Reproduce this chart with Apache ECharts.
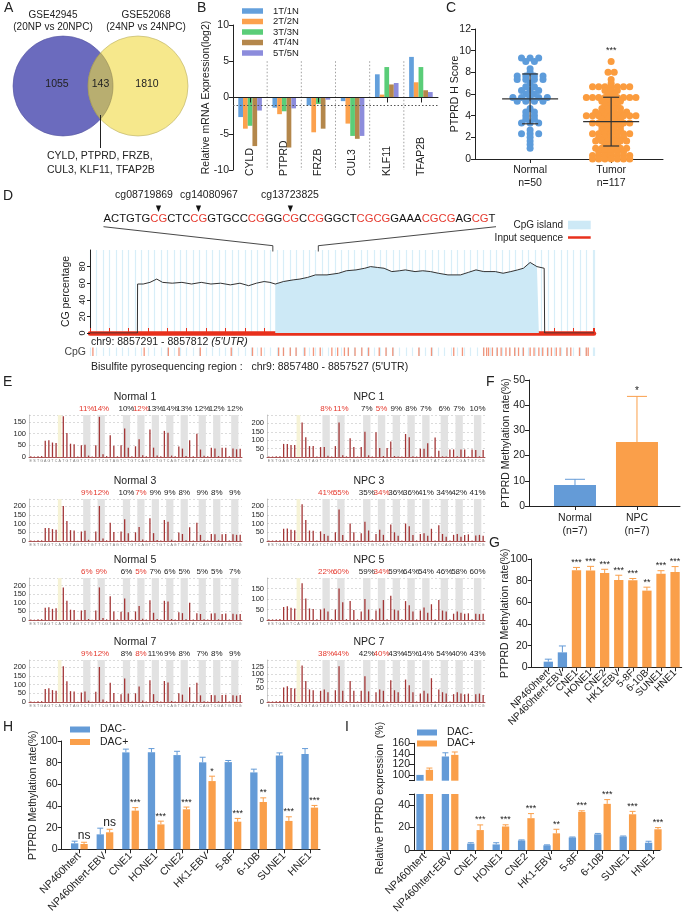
<!DOCTYPE html>
<html><head><meta charset="utf-8">
<script src="https://cdn.jsdelivr.net/npm/echarts@6.0.0/dist/echarts.min.js"></script>
<style>html,body{margin:0;padding:0;background:#fff;}#c{width:685px;height:917px;}</style>
</head><body><div id="c"></div>
<script>
const FONT = "'Liberation Sans', Arial, Helvetica, sans-serif";
const AX = '#222';
const BLUE = '#649bd7', ORANGE = '#fa9f4a', RED = '#e5392e';

// ===== Panel A =====
const vennLeft = ['GSE42945', '(20NP vs 20NPC)'];
const vennRight = ['GSE52068', '(24NP vs 24NPC)'];
const vennCounts = [1055, 143, 1810];
const vennGenes = ['CYLD, PTPRD, FRZB,', 'CUL3, KLF11, TFAP2B'];

// ===== Panel B =====
const bGenes = ['CYLD', 'PTPRD', 'FRZB', 'CUL3', 'KLF11', 'TFAP2B'];
const bNames = ['1T/1N', '2T/2N', '3T/3N', '4T/4N', '5T/5N'];
const bPair1 = [-2.7, -1.4, -1.1, -0.5, 3.2, 5.6];
const bPair2 = [-4.3, -2.3, -4.8, -3.6, 0.4, 2.1];
const bPair3 = [-3.9, -1.9, -0.9, -5.3, 4.2, 4.2];
const bPair4 = [-6.7, -6.9, -4.3, -5.7, 1.8, 1.0];
const bPair5 = [-1.8, -1.5, -0.3, -5.3, 2.0, 0.75];
const bColors = ['#64a0dc', '#fca14d', '#5acd78', '#b4874b', '#8c8cdc'];
const bCutoff = -1;

// ===== Panel C =====
const cGroups = ['Normal', 'Tumor'];
const cCounts = ['n=50', 'n=117'];
const cNormal = [9.33,9.33,9.33,9,9,8.33,8,7.67,7.67,7.67,7.67,7.33,7.33,7.33,7.33,7,6.67,6.67,6.33,6.33,6.33,6,6,5.67,5.67,5.67,5.67,5.67,5.33,5.33,5.33,5.33,4.67,4.33,4.33,4,4,3.67,3.67,3.33,3.33,3.33,2.67,2.33,2.33,2.33,2,1.67,1.33,1];
const cTumor = [9,8,8,7.33,7,
 6.67,6.67,6.67,6.67,6.67,6.67,6.67, 6.33,6.33,6.33, 6,6,
 5.67,5.67,5.67,5.67,5.67,5.67,5.67,5.67,5.67, 5.33,5.33,5.33,5.33, 5,5,5,
 4.67,4.67,4.67,4.67, 4.33,4.33,4.33,4.33,4.33,4.33, 4,4,4,4,4,4,4,4,4,
 3.67,3.67,3.67,3.67, 3.33,3.33,3.33,3.33,3.33,3.33,3.33, 3,3,3,3,
 2.67,2.67,2.67,2.67, 2.33,2.33,2.33,2.33,2.33,2.33,2.33, 2,2,2,2,2,
 1.67,1.67,1.67,1.67,1.67,1.67, 1.33,1.33,1.33, 1,1,1,1,1,1,
 0.67,0.67,0.67,0.67,0.67, 0.33,0.33,0.33,0.33,0.33,0.33,0.33, 0,0,0,0,0,0,0];
const cMean = [5.55, 3.45];
const cSD = [2.3, 2.25];
const cStars = ['', '***'];
const cStarLevel = 10;

// ===== Panel D =====
const chrStart = 8857291, chrEnd = 8857812;
const bsRegion = [8857480, 8857527];
const seqText = 'ACTGTGCGCTCCGGTGCCCGGGCGCCGGGCTCGCGGAAACGCGAGCGT';
const probeNames = ['cg08719869', 'cg14080967', 'cg13723825'];
const probeSeqIdx = [6, 11, 22];
const cgPos = [0,49,49.2,55,62,69,75,85,95,105,115,125,135,145,155,164,172,180,186,191.5,200,210,217,225,233,245,257,265,275,284,290,297,304,312,320,326,336,344,352,360,370,383,391,399,407,419,427,435,442,448,455,462,464,469.5,470,521];
const cgPct = [0,0,59,59,61,65,61,60,61,59,61,59,60,58,60,57,60,62,61,59,62,64,65,67,70,70,72,75,76,78,80,79,78,74,75,76,74,75,74,72,70,70,73,76,74,74,72,74,76,78,85,80,79,78,0,0];
const cpgIsland = [191.5, 464];
const cpgSites = [3,56,81,92,114,146,168,177,195,200,207,213,222,231,238,250,256,263,267,274,281,288,299,306,313,340,353,376,385,407,410,412,416,421,425,430,434,439,443,448,455,459,464,468,473,477,482,486,493,497,506,513,515];
const cgTicks = [0, 20, 40, 60, 80];

// ===== Panel E =====
const pyroTitles = ['Normal 1', 'NPC 1', 'Normal 3', 'NPC 3', 'Normal 5', 'NPC 5', 'Normal 7', 'NPC 7'];
const pctNormal1 = [11,14,10,12,13,14,13,12,12,12];
const pctNPC1 = [8,11,7,5,9,8,7,6,7,10];
const pctNormal3 = [9,12,10,7,9,9,8,9,8,9];
const pctNPC3 = [41,55,35,34,36,36,41,34,42,41];
const pctNormal5 = [6,9,6,5,7,6,5,5,5,7];
const pctNPC5 = [22,60,59,34,59,64,54,46,58,60];
const pctNormal7 = [9,12,8,8,11,9,8,7,8,9];
const pctNPC7 = [38,44,42,40,43,45,14,54,40,43];
const peaksNormal1 = [3,2,3,4,70,72,62,60,0,175,103,57,55,2,50,52,6,2,50,172,12,4,93,48,3,50,122,40,3,46,76,8,3,118,40,6,3,112,104,6,3,45,36,4,72,3,100,32,5,3,40,36,4,40,40,3,36,33,35];
const peaksNPC1 = [3,3,4,5,78,78,72,72,0,205,118,65,65,3,59,59,8,3,65,205,10,4,112,59,3,59,151,10,3,147,53,6,53,92,6,3,3,137,118,5,3,49,49,82,3,116,37,4,3,45,45,4,45,45,3,45,41,4,41];
const peaksNormal3 = [3,2,4,4,75,75,68,65,0,200,115,62,60,2,55,58,7,2,55,200,14,4,105,52,3,55,125,45,3,50,80,9,3,130,45,6,3,120,110,7,3,48,40,4,78,3,105,35,5,3,40,38,4,38,40,3,38,35,36];
const peaksNPC3 = [3,3,4,5,70,72,65,62,0,210,120,60,58,3,55,40,30,3,50,180,35,4,100,50,3,45,110,60,3,40,65,35,3,95,50,30,3,100,85,35,3,40,45,30,70,3,90,40,25,3,35,40,25,35,38,3,32,35,30];
const peaksNormal5 = [3,2,4,5,72,75,65,68,0,190,112,60,58,2,55,58,6,2,55,190,12,4,138,50,3,48,125,45,3,50,82,8,3,115,42,6,3,112,108,6,3,45,40,4,100,3,40,35,5,3,38,40,4,35,38,3,36,33,35];
const peaksNPC5 = [3,3,4,5,62,65,58,55,0,175,102,55,52,3,50,55,40,3,50,150,85,4,90,48,3,40,100,50,3,45,55,95,3,115,50,45,3,90,70,40,3,45,60,35,75,3,95,45,40,3,30,40,35,30,32,3,30,28,30];
const peaksNormal7 = [3,2,4,5,75,78,68,65,0,205,118,62,60,2,55,60,8,2,58,200,14,4,110,52,3,45,135,48,3,50,88,9,3,125,45,6,3,120,112,6,3,50,42,4,85,3,110,38,5,3,40,38,4,40,42,3,38,36,40];
const peaksNPC7 = [2,2,3,4,52,56,50,48,0,130,75,45,42,2,40,45,35,2,42,128,40,3,75,40,2,40,92,38,2,35,45,40,2,78,42,35,2,80,60,35,2,30,40,30,85,2,45,35,30,2,28,35,30,28,30,2,28,30,25];
const pyroYMax = [180, 250, 240, 240, 245, 200, 240, 150];
const pyroYStep = [50, 50, 50, 50, 50, 50, 50, 25];
const cpgBands = [[15,16],[19,20],[26,27],[30,31],[34,35],[38,39],[42,43],[47,48],[51,52],[56,57]];
const controlBand = [8, 8];
const redPctIdx = [0, 1, 3];
const dispensation = 'ESTGAGTCATGTAGTCTGTTCGTAGTCTGTCAGTCTGTCAGTCGTATCAGTCGATGTCG';

// ===== Panel F =====
const fGroups = ['Normal', 'NPC'];
const fN = ['(n=7)', '(n=7)'];
const fMean = [8.3, 25.4];
const fTop = [10.6, 43.5];
const fStars = ['', '*'];

// ===== Panels G, H, I =====
const cellLines = ['NP460htert', 'NP460htert-EBV', 'CNE1', 'HONE1', 'CNE2', 'HK1-EBV', '5-8F', '6-10B', 'SUNE1', 'HNE1'];
const gMeth = [5.2, 13.8, 89.6, 89.4, 87, 80.5, 80.4, 70.8, 86.3, 88];
const gTop = [7.5, 19.7, 92.2, 93.2, 90.5, 85, 82, 74, 89.2, 93];
const gStars = ['', '', '***', '***', '***', '***', '***', '**', '***', '***'];
const hMinus = [5.5, 13.8, 89.5, 89.5, 87, 80.3, 80.5, 71, 86.5, 88];
const hMinusTop = [7.5, 19.5, 92.5, 93, 90.5, 85, 82, 74, 89, 93];
const hPlus = [4.9, 15.7, 35.7, 23, 36.9, 63, 25.5, 43.7, 26.2, 38.5];
const hPlusTop = [6.5, 18.5, 38.5, 26, 39, 67.5, 28.5, 47.5, 30, 40.5];
const hStars = ['ns', 'ns', '***', '***', '***', '*', '***', '**', '***', '***'];
const iMinus = [100, 135, 5.7, 5, 8.5, 4.2, 11.2, 14, 12, 6.5];
const iMinusTop = [100, 142, 6.5, 6.5, 9, 4.6, 11.6, 14.8, 12.5, 7.8];
const iPlus = [109.7, 138, 17.8, 21, 28.4, 14.9, 34, 41.2, 31.9, 18.5];
const iPlusTop = [113, 143.5, 22.4, 22.5, 32.5, 18.5, 35, 45, 34.5, 20];
const iStars = ['', '', '***', '***', '***', '**', '***', '***', '***', '***'];
const iUpperRange = [89, 160], iLowerRange = [0, 50];
const iUpperTicks = [100, 120, 140, 160], iLowerTicks = [0, 20, 40];
const dacNames = ['DAC-', 'DAC+'];

// ================= BUILD =================
function merge(a, b) {
  const o = Object.assign({}, a);
  for (const k in b) {
    const v = b[k];
    if (v && typeof v === 'object' && !Array.isArray(v) && a[k] && typeof a[k] === 'object' && !Array.isArray(a[k])) o[k] = merge(a[k], v);
    else o[k] = v;
  }
  return o;
}
const grids = [], xAxes = [], yAxes = [], series = [];
const addGrid = g => { grids.push(Object.assign({outerBoundsMode: 'none', containLabel: false}, g)); return grids.length - 1; };
const baseAxis = {
  axisLine: {show: true, onZero: false, lineStyle: {color: AX, width: 1}},
  axisTick: {show: true, length: 4, lineStyle: {color: AX, width: 1}},
  splitLine: {show: false},
  axisLabel: {color: AX, fontSize: 10.5, margin: 4, fontFamily: FONT, showMinLabel: true, showMaxLabel: true},
  nameTextStyle: {color: AX, fontSize: 10.5, fontFamily: FONT},
  nameMoveOverlap: false
};
const addX = o => { xAxes.push(merge(baseAxis, o)); return xAxes.length - 1; };
const addY = o => { yAxes.push(merge(baseAxis, o)); return yAxes.length - 1; };

function errSeries(xi, yi, vals, tops, color, dx, cap, labels, fs, keep) {
  return {
    type: 'custom', xAxisIndex: xi, yAxisIndex: yi, silent: true, z: 5,
    data: vals.map((v, i) => [i, v, tops[i]]),
    renderItem: function (params, api) {
      const i = params.dataIndex;
      if (keep && !keep(i)) return {type: 'group', children: []};
      const x = api.value(0), v = api.value(1), t = api.value(2);
      const p0 = api.coord([x, v]), p1 = api.coord([x, t]);
      const cx = p0[0] + dx, ch = [];
      if (t > v) {
        ch.push({type: 'line', shape: {x1: cx, y1: p0[1], x2: cx, y2: p1[1]}, style: {stroke: color, lineWidth: 1}});
        ch.push({type: 'line', shape: {x1: cx - cap, y1: p1[1], x2: cx + cap, y2: p1[1]}, style: {stroke: color, lineWidth: 1}});
      }
      const lab = labels ? labels[i] : '';
      if (lab) ch.push({type: 'text', x: cx, y: p1[1] - 0.5, style: {text: lab, align: 'center', verticalAlign: 'bottom', fontSize: lab === 'ns' ? 12 : fs, fontFamily: FONT, fill: AX}});
      return {type: 'group', children: ch};
    }
  };
}

// ---------- Panel B ----------
const gB = addGrid({left: 233, top: 25, width: 205, height: 145});
const xB0 = addX({type: 'category', gridIndex: gB, data: bGenes, z: 4,
  axisLine: {onZero: true}, axisTick: {alignWithLabel: true, length: 5}, axisLabel: {show: false}});
const xB1 = addX({type: 'category', gridIndex: gB, data: bGenes, position: 'bottom',
  axisLine: {show: false}, axisTick: {show: false},
  axisLabel: {rotate: 90, align: 'left', verticalAlign: 'middle', margin: 6, interval: 0}});
const xB2 = addX({type: 'value', gridIndex: gB, min: 0, max: bGenes.length, show: false});
const yB = addY({type: 'value', gridIndex: gB, min: -10, max: 10, interval: 5,
  name: 'Relative mRNA Expression(log2)', nameLocation: 'middle', nameGap: 21});
[bPair1, bPair2, bPair3, bPair4, bPair5].forEach((arr, i) => {
  const s = {type: 'bar', name: bNames[i], xAxisIndex: xB0, yAxisIndex: yB, data: arr,
    barGap: '0%', barCategoryGap: '31%', itemStyle: {color: bColors[i]}};
  if (i === 0) s.markLine = {silent: true, symbol: 'none', label: {show: false},
    lineStyle: {type: [1.5, 2], color: '#555', width: 1}, data: [{yAxis: bCutoff}]};
  series.push(s);
});
series.push({type: 'custom', xAxisIndex: xB2, yAxisIndex: yB, silent: true, z: 1,
  data: bGenes.slice(1).map((_, i) => [i + 1, 0]),
  renderItem: (p, api) => {
    const a = api.coord([api.value(0), 5]), b = api.coord([api.value(0), -10]);
    return {type: 'line', shape: {x1: a[0], y1: a[1], x2: b[0], y2: b[1]}, style: {stroke: '#888', lineWidth: 0.8, lineDash: [1.5, 2]}};
  }});

// ---------- Panel C ----------
const gC = addGrid({left: 475, top: 29, width: 188, height: 130});
const cMin = -0.68, cMax = 1.64;
const xC = addX({type: 'value', gridIndex: gC, min: cMin, max: cMax,
  axisTick: {customValues: [0, 1]},
  axisLabel: {customValues: [0, 1], lineHeight: 13, margin: 5,
    formatter: v => cGroups[Math.round(v)] + '\n' + cCounts[Math.round(v)]}});
const yC = addY({type: 'value', gridIndex: gC, min: 0, max: 12, interval: 2,
  name: 'PTPRD H Score', nameLocation: 'middle', nameGap: 14});
const cPxPerUnit = 188 / (cMax - cMin);
function swarm(vals, cx, spacingPx) {
  const lv = {}; const order = [];
  vals.forEach(v => { if (!lv[v]) { lv[v] = 0; order.push(v); } lv[v]++; });
  const out = [];
  order.forEach(v => { const n = lv[v]; for (let j = 0; j < n; j++) out.push([cx + (j - (n - 1) / 2) * spacingPx / cPxPerUnit, v]); });
  return out;
}
series.push({type: 'scatter', xAxisIndex: xC, yAxisIndex: yC, symbolSize: 7, itemStyle: {color: '#5d9cdb', opacity: 1}, data: swarm(cNormal, 0, 8.6)});
series.push({type: 'scatter', xAxisIndex: xC, yAxisIndex: yC, symbolSize: 7, itemStyle: {color: '#fb9c3e', opacity: 1}, data: swarm(cTumor, 1, 6.2)});
series.push({type: 'custom', xAxisIndex: xC, yAxisIndex: yC, silent: true, z: 6,
  data: cMean.map((m, i) => [i, m, cSD[i]]),
  renderItem: (p, api) => {
    const x = api.value(0), m = api.value(1), sd = api.value(2);
    const pm = api.coord([x, m]), pt = api.coord([x, m + sd]), pb = api.coord([x, m - sd]);
    const st = {stroke: '#333', lineWidth: 1.2};
    const ch = [
      {type: 'line', shape: {x1: pm[0] - 28, y1: pm[1], x2: pm[0] + 28, y2: pm[1]}, style: st},
      {type: 'line', shape: {x1: pm[0], y1: pt[1], x2: pm[0], y2: pb[1]}, style: st},
      {type: 'line', shape: {x1: pm[0] - 8, y1: pt[1], x2: pm[0] + 8, y2: pt[1]}, style: st},
      {type: 'line', shape: {x1: pm[0] - 8, y1: pb[1], x2: pm[0] + 8, y2: pb[1]}, style: st}
    ];
    const s = cStars[p.dataIndex];
    if (s) { const ps = api.coord([x, cStarLevel]); ch.push({type: 'text', x: ps[0], y: ps[1], style: {text: s, align: 'center', verticalAlign: 'middle', fontSize: 9, fontFamily: FONT, fill: AX}}); }
    return {type: 'group', children: ch};
  }});

// ---------- Panel D ----------
const gD = addGrid({left: 90, top: 250, width: 504, height: 83});
const chrLen = chrEnd - chrStart;
const stripe = {color: '#d8eef8', width: 1.2};
const xD = addX({type: 'value', gridIndex: gD, min: 0, max: chrLen, interval: 20,
  axisLine: {lineStyle: {color: '#e8301c', width: 4.5}},
  axisTick: {inside: true, length: 5, lineStyle: {color: '#e8301c', width: 1}},
  axisLabel: {show: false},
  splitLine: {show: true, lineStyle: stripe},
  minorTick: {show: false, splitNumber: 3},
  minorSplitLine: {show: true, lineStyle: stripe}});
const yD = addY({type: 'value', gridIndex: gD, min: 0, max: 100, interval: 20,
  axisTick: {length: 3},
  axisLabel: {rotate: 90, fontSize: 9, margin: 3, showMaxLabel: false, formatter: v => cgTicks.indexOf(v) >= 0 ? String(v) : ''},
  name: 'CG percentage', nameLocation: 'middle', nameGap: 18});
const cgCurve = cgPos.map((p, i) => [p, cgPct[i]]);
series.push({type: 'line', xAxisIndex: xD, yAxisIndex: yD, symbol: 'none', z: 2, silent: true,
  data: cgCurve.filter(d => d[0] >= cpgIsland[0] && d[0] <= cpgIsland[1]),
  lineStyle: {width: 0}, areaStyle: {color: '#cde9f6', opacity: 1}});
series.push({type: 'line', xAxisIndex: xD, yAxisIndex: yD, symbol: 'none', z: 3, silent: true,
  data: cgCurve, lineStyle: {color: '#333', width: 1}});
const gD2 = addGrid({left: 90, top: 347.5, width: 504, height: 8.5});
const xD2 = addX({type: 'value', gridIndex: gD2, min: 0, max: chrLen, interval: 20,
  axisLine: {show: false}, axisTick: {show: false}, axisLabel: {show: false},
  splitLine: {show: true, lineStyle: stripe}, minorTick: {show: false, splitNumber: 3},
  minorSplitLine: {show: true, lineStyle: stripe}});
const yD2 = addY({type: 'value', gridIndex: gD2, min: 0, max: 1, show: false});
series.push({type: 'scatter', xAxisIndex: xD2, yAxisIndex: yD2, symbol: 'rect', symbolSize: [1.3, 8.5], silent: true,
  itemStyle: {color: '#f07a5a'}, data: cpgSites.map(p => [p, 0.5])});

// ---------- Panel E ----------
const pyroPct = [pctNormal1, pctNPC1, pctNormal3, pctNPC3, pctNormal5, pctNPC5, pctNormal7, pctNPC7];
const pyroPeaks = [peaksNormal1, peaksNPC1, peaksNormal3, peaksNPC3, peaksNormal5, peaksNPC5, peaksNormal7, peaksNPC7];
const pyroColLeft = [29, 267], pyroColWidth = [213, 218], pyroRowBottom = [457, 541, 620, 702], pyroH = 42;
const pyroTitleGraphics = [];
pyroTitles.forEach((title, k) => {
  const col = k % 2, row = Math.floor(k / 2);
  const g = addGrid({left: pyroColLeft[col], width: pyroColWidth[col], top: pyroRowBottom[row] - pyroH, height: pyroH});
  const n = pyroPeaks[k].length;
  const xv = addX({type: 'value', gridIndex: g, min: -0.5, max: n - 0.5, show: false});
  addX({type: 'category', gridIndex: g, data: dispensation.split(''), position: 'bottom',
    axisLine: {lineStyle: {color: '#9b3030', width: 0.8}}, axisTick: {show: false},
    axisLabel: {fontSize: 3.6, color: '#777', margin: 1.5, interval: 0}});
  const yv = addY({type: 'value', gridIndex: g, min: 0, max: pyroYMax[k], interval: pyroYStep[k],
    axisLine: {lineStyle: {color: '#aaa', width: 0.6}}, axisTick: {show: false},
    axisLabel: {fontSize: 7.5, margin: 3, showMaxLabel: false},
    splitLine: {show: true, lineStyle: {color: '#c4c4c4', type: [2, 2], width: 0.6}}});
  const bands = cpgBands.map((b, j) => [
    {xAxis: b[0] - 0.5, label: {show: true, position: 'top', distance: 2, formatter: pyroPct[k][j] + '%',
      color: redPctIdx.indexOf(j) >= 0 ? RED : AX, fontSize: 8, fontFamily: FONT}},
    {xAxis: b[1] + 0.5}]);
  bands.push([{xAxis: controlBand[0] - 0.5, itemStyle: {color: '#f6f3d6'}, label: {show: false}}, {xAxis: controlBand[1] + 0.5}]);
  series.push({type: 'bar', xAxisIndex: xv, yAxisIndex: yv, barWidth: 1.3, silent: true,
    itemStyle: {color: '#a33636'}, data: pyroPeaks[k].map((v, i) => [i, v]),
    markArea: {silent: true, itemStyle: {color: '#e2e2e2'}, data: bands}});
  pyroTitleGraphics.push({type: 'text', x: pyroColLeft[col] + (col === 0 ? 106 : 102), y: pyroRowBottom[row] - 60,
    style: {text: title, fontSize: 10.5, fontFamily: FONT, fill: AX, align: 'center', verticalAlign: 'middle'}, silent: true});
});

// ---------- Panel F ----------
const gF = addGrid({left: 529, top: 380, width: 151, height: 126});
const xF = addX({type: 'value', gridIndex: gF, min: -0.742, max: 1.694,
  axisTick: {customValues: [0, 1]},
  axisLabel: {customValues: [0, 1], lineHeight: 13, margin: 6, formatter: v => fGroups[Math.round(v)] + '\n' + fN[Math.round(v)]}});
const yF = addY({type: 'value', gridIndex: gF, min: 0, max: 50, interval: 10,
  name: 'PTPRD Methylation rate(%)', nameLocation: 'middle', nameGap: 17});
const fColors = [BLUE, ORANGE];
series.push({type: 'bar', xAxisIndex: xF, yAxisIndex: yF, barWidth: 42,
  data: fMean.map((v, i) => ({value: [i, v], itemStyle: {color: fColors[i]}}))});
fMean.forEach((v, i) => {
  series.push(errSeries(xF, yF, fMean, fTop, fColors[i], 0, 10, fStars, 10, j => j === i));
});

// ---------- Panel G ----------
const gG = addGrid({left: 531.7, top: 559, width: 150, height: 108.3});
const idxs = cellLines.map((_, i) => i);
const xG = addX({type: 'value', gridIndex: gG, min: -1.18, max: 9.47,
  axisTick: {customValues: idxs},
  axisLabel: {customValues: idxs, rotate: 45, fontSize: 10, margin: 4, formatter: v => cellLines[Math.round(v)]}});
const yG = addY({type: 'value', gridIndex: gG, min: 0, max: 100, interval: 20,
  name: 'PTPRD Methylation rate(%)', nameLocation: 'middle', nameGap: 21});
const gColor = i => (i < 2 ? BLUE : ORANGE);
series.push({type: 'bar', xAxisIndex: xG, yAxisIndex: yG, barWidth: 9.3,
  data: gMeth.map((v, i) => ({value: [i, v], itemStyle: {color: gColor(i)}}))});
series.push(errSeries(xG, yG, gMeth, gTop, BLUE, 0, 3.5, gStars, 9, i => i < 2));
series.push(errSeries(xG, yG, gMeth, gTop, ORANGE, 0, 3.5, gStars, 9, i => i >= 2));

// ---------- Panel H ----------
const gH = addGrid({left: 61.7, top: 741, width: 258.3, height: 108.3});
const xH = addX({type: 'value', gridIndex: gH, min: -0.69, max: 9.40,
  axisTick: {customValues: idxs},
  axisLabel: {customValues: idxs, rotate: 45, fontSize: 10.5, margin: 5, formatter: v => cellLines[Math.round(v)]}});
const yH = addY({type: 'value', gridIndex: gH, min: 0, max: 100, interval: 20,
  name: 'PTPRD Methylation rate(%)', nameLocation: 'middle', nameGap: 23});
const barW2 = 7.3, gap2 = 2.1, off2 = (barW2 + gap2) / 2;
series.push({type: 'bar', name: dacNames[0], xAxisIndex: xH, yAxisIndex: yH, barWidth: barW2, barGap: (gap2 / barW2 * 100) + '%',
  itemStyle: {color: BLUE}, data: hMinus.map((v, i) => [i, v])});
series.push({type: 'bar', name: dacNames[1], xAxisIndex: xH, yAxisIndex: yH, barWidth: barW2, barGap: (gap2 / barW2 * 100) + '%',
  itemStyle: {color: ORANGE}, data: hPlus.map((v, i) => [i, v])});
series.push(errSeries(xH, yH, hMinus, hMinusTop, BLUE, -off2, 3, null, 9));
series.push(errSeries(xH, yH, hPlus, hPlusTop, ORANGE, off2, 3, hStars, 9));

// ---------- Panel I ----------
const gIu = addGrid({left: 414, top: 743.3, width: 246, height: 37.4});
const gIl = addGrid({left: 414, top: 794, width: 246, height: 56});
const xIu = addX({type: 'value', gridIndex: gIu, min: -0.421, max: 9.264, show: false});
const yIu = addY({type: 'value', gridIndex: gIu, min: iUpperRange[0], max: iUpperRange[1],
  axisTick: {customValues: [iUpperRange[0]].concat(iUpperTicks), length: 5},
  axisLabel: {show: false}});
const xIl = addX({type: 'value', gridIndex: gIl, min: -0.421, max: 9.264,
  axisTick: {customValues: idxs},
  axisLabel: {customValues: idxs, rotate: 45, fontSize: 10.5, margin: 5, formatter: v => cellLines[Math.round(v)]}});
const yIl = addY({type: 'value', gridIndex: gIl, min: iLowerRange[0], max: iLowerRange[1],
  axisTick: {customValues: iLowerTicks.concat([iLowerRange[1]]), length: 5},
  axisLabel: {customValues: iLowerTicks}});
[[xIu, yIu], [xIl, yIl]].forEach(([xi, yi], part) => {
  series.push({type: 'bar', name: dacNames[0], xAxisIndex: xi, yAxisIndex: yi, barWidth: barW2, barGap: (gap2 / barW2 * 100) + '%',
    itemStyle: {color: BLUE}, data: iMinus.map((v, i) => [i, v])});
  series.push({type: 'bar', name: dacNames[1], xAxisIndex: xi, yAxisIndex: yi, barWidth: barW2, barGap: (gap2 / barW2 * 100) + '%',
    itemStyle: {color: ORANGE}, data: iPlus.map((v, i) => [i, v])});
  const keepFn = part === 0 ? (arr => i => arr[i] > iUpperRange[0]) : (arr => i => arr[i] < iLowerRange[1]);
  series.push(errSeries(xi, yi, iMinus, iMinusTop, BLUE, -off2, 3, null, 9, keepFn(iMinusTop)));
  series.push(errSeries(xi, yi, iPlus, iPlusTop, ORANGE, off2, 3, part === 1 ? iStars : null, 9, keepFn(iPlusTop)));
});

// ---------- Legends ----------
const legendBase = {orient: 'vertical', icon: 'rect', selectedMode: false, padding: 0, itemGap: 0.5,
  textStyle: {fontSize: 9.5, color: AX, fontFamily: FONT, padding: [0, 0, 0, 5]}};
const legends = [
  Object.assign({}, legendBase, {data: bNames, left: 242, top: 6, itemWidth: 21, itemHeight: 5.5}),
  Object.assign({}, legendBase, {data: dacNames, left: 70, top: 724, itemWidth: 20, itemHeight: 6, itemGap: 1.5, textStyle: {fontSize: 10.5, color: AX, fontFamily: FONT, padding: [0, 0, 0, 5]}}),
  Object.assign({}, legendBase, {data: dacNames, left: 417, top: 727, itemWidth: 20, itemHeight: 6, itemGap: 0, textStyle: {fontSize: 10.5, color: AX, fontFamily: FONT, padding: [0, 0, 0, 5]}})
];

const chart = echarts.init(document.getElementById('c'), null, {renderer: 'canvas', width: 685, height: 917});
chart.setOption({
  animation: false,
  textStyle: {fontFamily: FONT},
  grid: grids, xAxis: xAxes, yAxis: yAxes, series: series, legend: legends
});

// ---------- Graphics ----------
const T = (x, y, text, o) => ({type: 'text', x: x, y: y, silent: true, z: 10,
  style: Object.assign({text: text, fontSize: 10.5, fontFamily: FONT, fill: AX, align: 'left', verticalAlign: 'middle'}, o || {})});
const gr = [];
[['A', 4, 8], ['B', 197, 8], ['C', 446, 8], ['D', 3, 196], ['E', 3, 382], ['F', 486, 382], ['G', 489, 543], ['H', 3, 727], ['I', 345, 727]]
  .forEach(l => gr.push(T(l[1], l[2], l[0], {fontSize: 14})));
// Venn
const vL = {cx: 63, cy: 86, r: 50}, vR = {cx: 138, cy: 86, r: 50};
const dV = vR.cx - vL.cx, th = Math.acos((dV / 2) / vL.r);
const lens = [];
for (let s = 0; s <= 24; s++) { const a = -th + 2 * th * s / 24; lens.push([vL.cx + vL.r * Math.cos(a), vL.cy + vL.r * Math.sin(a)]); }
for (let s = 0; s <= 24; s++) { const a = Math.PI - th + 2 * th * s / 24; lens.push([vR.cx + vR.r * Math.cos(a), vR.cy + vR.r * Math.sin(a)]); }
const mxV = (vL.cx + vR.cx) / 2;
gr.push({type: 'circle', shape: vL, style: {fill: '#6b6bbe', stroke: '#55559f', lineWidth: 0.6}, silent: true, z: 1});
gr.push({type: 'circle', shape: vR, style: {fill: '#f6e88c', stroke: '#b9ae66', lineWidth: 0.6}, silent: true, z: 2});
gr.push({type: 'polygon', silent: true, z: 3, shape: {points: lens}, style: {fill: '#b8ae70', stroke: '#8a8150', lineWidth: 0.5}});
gr.push(T(53, 15, vennLeft[0], {align: 'center', fontSize: 10}));
gr.push(T(53, 27, vennLeft[1], {align: 'center', fontSize: 10}));
gr.push(T(146, 15, vennRight[0], {align: 'center', fontSize: 10}));
gr.push(T(146, 27, vennRight[1], {align: 'center', fontSize: 10}));
gr.push(T(57, 84, String(vennCounts[0]), {align: 'center'}));
gr.push(T(mxV, 84, String(vennCounts[1]), {align: 'center'}));
gr.push(T(147, 84, String(vennCounts[2]), {align: 'center'}));
gr.push({type: 'line', silent: true, z: 4, shape: {x1: mxV, y1: 115, x2: mxV, y2: 148}, style: {stroke: '#222', lineWidth: 1}});
gr.push(T(47, 156, vennGenes[0]));
gr.push(T(47, 170, vennGenes[1]));

// Panel D annotations
const seqX = 103.5, seqY = 219.3, seqW = 392.5;
const mctx = document.createElement('canvas').getContext('2d');
mctx.font = '12px ' + FONT;
const seqFs = 12 * seqW / mctx.measureText(seqText).width;
mctx.font = seqFs + 'px ' + FONT;
let seqRich = '{k|' + seqText.replace(/(CG)+/g, m => '}{r|' + m + '}{k|') + '}';
seqRich = seqRich.replace(/\{k\|\}/g, '');
gr.push(T(seqX, seqY, seqRich, {fontSize: seqFs, rich: {k: {fill: '#111', fontSize: seqFs, fontFamily: FONT}, r: {fill: RED, fontSize: seqFs, fontFamily: FONT}}}));
const probeLabelX = [144, 209, 290];
probeSeqIdx.forEach((idx, j) => {
  const tx = seqX + mctx.measureText(seqText.slice(0, idx + 1)).width;
  gr.push({type: 'polygon', silent: true, z: 10, shape: {points: [[tx - 2.6, 205.5], [tx + 2.6, 205.5], [tx, 212]]}, style: {fill: '#111'}});
  gr.push(T(probeLabelX[j], 195, probeNames[j], {align: 'center'}));
});
const regL = chart.convertToPixel({xAxisIndex: xD}, bsRegion[0] - chrStart);
const regR = chart.convertToPixel({xAxisIndex: xD}, bsRegion[1] - chrStart);
const topD = chart.convertToPixel({yAxisIndex: yD}, 100);
gr.push({type: 'polyline', silent: true, z: 10, shape: {points: [[seqX, 226.7], [regL, 245.7], [regL, topD + 1.5]]}, style: {stroke: '#333', lineWidth: 0.9, fill: null}});
gr.push({type: 'polyline', silent: true, z: 10, shape: {points: [[seqX + seqW, 226.7], [regR, 245.7], [regR, topD + 1.5]]}, style: {stroke: '#333', lineWidth: 0.9, fill: null}});
gr.push(T(563, 225, 'CpG island', {align: 'right', fontSize: 10}));
gr.push({type: 'rect', silent: true, z: 10, shape: {x: 568, y: 220.7, width: 22.7, height: 8.6}, style: {fill: '#cde9f6'}});
gr.push(T(563, 238, 'Input sequence', {align: 'right', fontSize: 10}));
gr.push({type: 'line', silent: true, z: 10, shape: {x1: 568, y1: 237.5, x2: 590.7, y2: 237.5}, style: {stroke: '#e8301c', lineWidth: 2.5}});
gr.push(T(91, 342, '{n|chr9: ' + chrStart + ' - ' + chrEnd + ' }{i|(5\'UTR)}', {rich: {n: {fontSize: 10.5, fontFamily: FONT, fill: AX}, i: {fontSize: 10.5, fontFamily: FONT, fill: AX, fontStyle: 'italic'}}}));
gr.push(T(86, 352, 'CpG', {align: 'right', fill: '#444'}));
gr.push(T(91, 367, 'Bisulfite pyrosequencing region :   chr9: ' + bsRegion[0] + ' - ' + bsRegion[1] + ' (5\'UTR)'));
pyroTitleGraphics.forEach(g => gr.push(g));
// Panel I upper-axis tick labels (placed through the axis scale)
const iAxisX = chart.convertToPixel({xAxisIndex: xIu}, -0.421);
iUpperTicks.forEach(v => {
  const y = chart.convertToPixel({yAxisIndex: yIu}, v);
  gr.push(T(iAxisX - 4, y, String(v), {align: 'right'}));
});
gr.push({type: 'text', x: 380, y: 798, rotation: Math.PI / 2, silent: true, z: 10,
  style: {text: 'Relative PTPRD expression  (%)', fontSize: 10.5, fontFamily: FONT, fill: AX, align: 'center', verticalAlign: 'middle'}});

chart.setOption({graphic: {elements: gr}});
</script></body></html>
